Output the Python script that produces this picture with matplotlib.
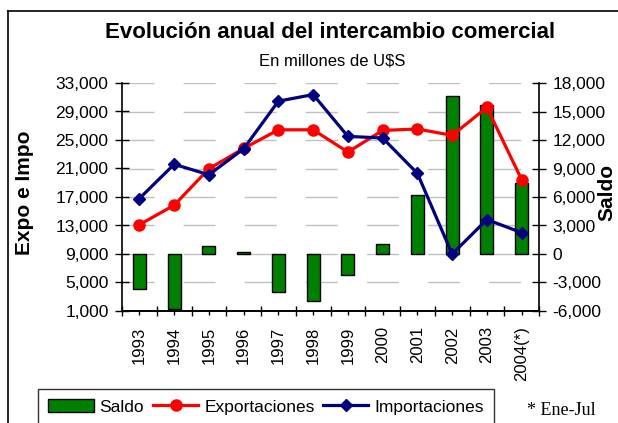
import matplotlib.pyplot as plt
from matplotlib.lines import Line2D
import numpy as np

# datos (millones de U$S)
anios = ["1993", "1994", "1995", "1996", "1997", "1998", "1999", "2000",
         "2001", "2002", "2003", "2004(*)"]
exportaciones = [13118, 15839, 20963, 23811, 26431, 26434, 23309, 26341,
                 26543, 25651, 29566, 19450]
importaciones = [16784, 21590, 20122, 23762, 30450, 31377, 25508, 25280,
                 20320, 8990, 13833, 12000]
saldo = [-3666, -5751, 841, 250, -4019, -4943, -2199, 1061,
         6223, 16661, 15733, 7450]

izq_ticks = list(range(1000, 33001, 4000))
der_ticks = list(range(-6000, 18001, 3000))

plt.rcParams['font.family'] = ['Liberation Sans', 'DejaVu Sans']

fig = plt.figure(figsize=(6.18, 4.23), dpi=100)
ax = fig.add_axes([122 / 618, 1 - 311 / 423, 417 / 618, 228 / 423])
ax2 = ax.twinx()
ax.set_zorder(ax2.get_zorder() + 1)
ax.patch.set_visible(False)

x = np.arange(len(anios))

# barras del saldo en el eje derecho
barras = ax2.bar(x, saldo, width=0.38, color="#008000", edgecolor="black",
                 linewidth=1, label="Saldo", zorder=3)
ax2.set_ylim(-6000, 18000)
ax2.set_yticks(der_ticks)
ax2.set_yticklabels([f"{v:,}" for v in der_ticks])
ax2.grid(axis="y", color="#c0c0c0", linewidth=1, linestyle=(0, (23, 21)))
ax2.set_axisbelow(True)

# lineas en el eje izquierdo
l1, = ax.plot(x, exportaciones, color="#ff0000", linewidth=2.3, marker="o",
              markersize=8, label="Exportaciones")
l2, = ax.plot(x, importaciones, color="#000080", linewidth=2.3, marker="D",
              markersize=6.5, label="Importaciones")
ax.set_ylim(1000, 33000)
ax.set_yticks(izq_ticks)
ax.set_yticklabels([f"{v:,}" for v in izq_ticks])
ax.set_xlim(-0.5, len(anios) - 0.5)

ax.set_xticks(x)
ax.set_xticklabels(anios, rotation=90)
ax.set_xticks(np.arange(-0.5, len(anios)), minor=True)

for a in (ax, ax2):
    a.spines["top"].set_visible(False)
    a.spines["left"].set_linewidth(1.2)
    a.spines["right"].set_linewidth(1.2)
    a.spines["bottom"].set_linewidth(1.2)
ax.spines["right"].set_visible(False)
ax2.spines["left"].set_visible(False)

ax.tick_params(axis="y", direction="inout", length=9.4, width=1, labelsize=12.5, pad=5)
ax2.tick_params(axis="y", direction="inout", length=9.4, width=1, labelsize=12.5, pad=5)
ax.tick_params(axis="x", which="major", direction="out", length=3, width=1,
               labelsize=12, pad=8)
ax.tick_params(axis="x", which="minor", direction="inout", length=7, width=1)
ax2.tick_params(axis="x", which="both", bottom=False, labelbottom=False)

# textos
fig.text(330 / 618, 1 - 33 / 423, "Evolución anual del intercambio comercial",
         ha="center", va="center", fontsize=16, fontweight="bold")
fig.text(332 / 618, 1 - 61 / 423, "En millones de U$S", ha="center", va="center",
         fontsize=12, family=["Liberation Sans Narrow", "Liberation Sans"])
fig.text(25 / 618, 1 - 193 / 423, "Expo e Impo", rotation=90, ha="center",
         va="center", fontsize=15, fontweight="bold")
fig.text(607 / 618, 1 - 192 / 423, "Saldo", rotation=90, ha="center",
         va="center", fontsize=15, fontweight="bold")
fig.text(527 / 618, 1 - 410 / 423, "* Ene-Jul", ha="left", va="center",
         fontsize=13, family=["Liberation Serif", "DejaVu Serif"])

# marco del grafico
fig.add_artist(Line2D([8 / 618, 8 / 618], [0, 1 - 11 / 423], color="black",
                      linewidth=1.2, transform=fig.transFigure))
fig.add_artist(Line2D([8 / 618, 1], [1 - 11 / 423, 1 - 11 / 423], color="black",
                      linewidth=1.2, transform=fig.transFigure))

leg = fig.legend(handles=[barras, l1, l2], loc="upper left",
                 bbox_to_anchor=(38 / 618, 1 - 389 / 423), ncol=3,
                 fontsize=12.5, frameon=True, fancybox=False, borderpad=0.6,
                 handlelength=2.6, handletextpad=0.35, columnspacing=0.5,
                 borderaxespad=0)
leg.get_frame().set_edgecolor("black")
leg.get_frame().set_linewidth(1)

fig.savefig("out.png", dpi=100)
